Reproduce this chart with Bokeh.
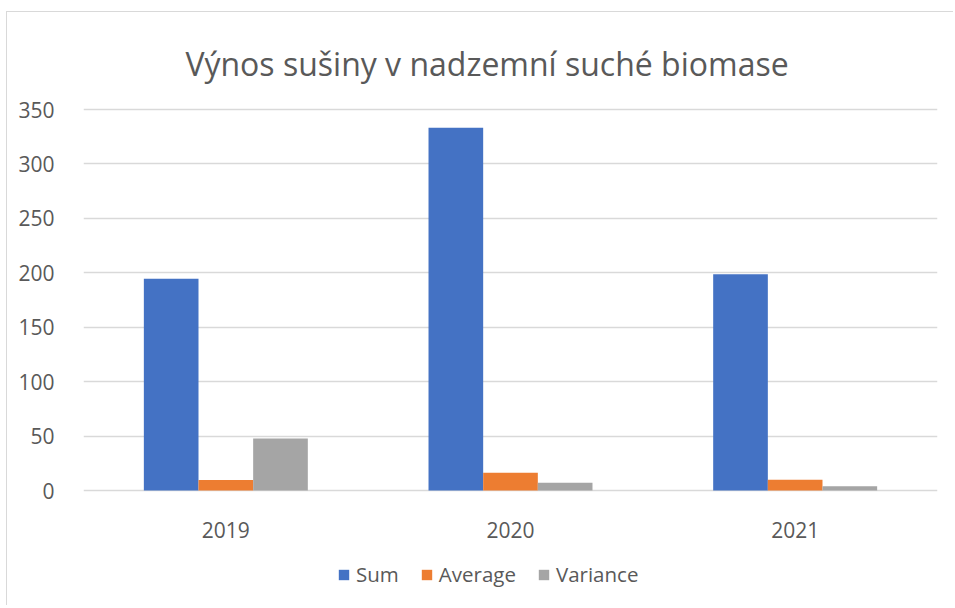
from bokeh.plotting import figure
from bokeh.models import FactorRange, Range1d, FixedTicker, Legend, LegendItem, ColumnDataSource, Label
from bokeh.transform import dodge
from bokeh.core.properties import value
from bokeh.embed import file_html
from bokeh.resources import INLINE

title_text = "Výnos sušiny v nadzemní suché biomase"
years = ["2019", "2020", "2021"]
sum_vals = [194.5, 333.3, 198.6]
avg_vals = [9.7, 16.4, 9.8]
var_vals = [47.8, 7.2, 3.9]
series_names = ["Sum", "Average", "Variance"]
colors = ["#4472C4", "#ED7D31", "#A5A5A5"]
y_ticks = [0, 50, 100, 150, 200, 250, 300, 350]

src = ColumnDataSource(dict(year=years, Sum=sum_vals, Average=avg_vals, Variance=var_vals))

FONT = "Open Sans"
TXT = "#595959"

# layout geometry in page pixels; the figure is shifted by a CSS margin + 1px border
MX, MY = 6, 11                      # chart-area border position
OX, OY = MX + 1, MY + 1             # canvas origin on the page
H, W = 594, 947
FRAME_L, FRAME_R = 83, 937
FRAME_T = OY + 20
FRAME_B = OY + H - 8
Y0_PX, Y350_PX = 490, 109           # page rows of value 0 and value 350
ppu = (Y0_PX - Y350_PX) / 350.0
y_end = 350 + (Y350_PX - FRAME_T) / ppu
y_start = -(FRAME_B - Y0_PX) / ppu

p = figure(width=W, height=H, x_range=FactorRange(*years), y_range=Range1d(y_start, y_end),
           x_axis_location=None, output_backend="svg", toolbar_location=None,
           min_border_left=FRAME_L - OX, min_border_right=W - (FRAME_R - OX),
           min_border_top=FRAME_T - OY, min_border_bottom=OY + H - FRAME_B)
p.margin = (MY, 0, 0, MX)
p.styles = {"border-left": "1px solid #D9D9D9", "border-top": "1px solid #D9D9D9"}
p.title.visible = False

bw = 0.192
items = []
for i, (name, c) in enumerate(zip(series_names, colors)):
    r = p.vbar(x=dodge("year", (i - 1) * bw, range=p.x_range), top=name, width=bw,
               source=src, fill_color=c, line_color=None)
    items.append(LegendItem(label=name, renderers=[r]))

# category labels under the zero line
p.text(x=years, y=[-(529 - Y0_PX) / ppu] * len(years), text=years,
       text_font=value(FONT), text_font_size="21px", text_color=TXT,
       text_align="center", text_baseline="alphabetic")

# chart title
p.add_layout(Label(x=(486.5 - FRAME_L) / ((FRAME_R - FRAME_L) / 3.0), y=(Y0_PX - 63) / ppu,
                   text=title_text, text_font=FONT, text_font_size="32px",
                   text_color=TXT, text_align="center", text_baseline="alphabetic"))

legend = Legend(items=items, orientation="horizontal", location=(337 - FRAME_L, FRAME_B - 575 - 13),
                padding=0, margin=0, spacing=21, label_standoff=6,
                glyph_width=13, glyph_height=13,
                label_text_font=FONT, label_text_font_size="20.5px", label_text_color=TXT,
                border_line_color=None, background_fill_alpha=0)
p.add_layout(legend, "center")

p.yaxis.ticker = FixedTicker(ticks=y_ticks)
p.yaxis.axis_line_color = None
p.yaxis.major_tick_line_color = None
p.yaxis.minor_tick_line_color = None
p.yaxis.major_label_standoff = 23
p.yaxis.major_label_text_font = FONT
p.yaxis.major_label_text_font_size = "21px"
p.yaxis.major_label_text_color = TXT

p.xgrid.grid_line_color = None
p.ygrid.grid_line_color = "#D9D9D9"
p.ygrid.grid_line_width = 1.5
p.outline_line_color = None

open("out.html", "w").write(file_html(p, INLINE))
